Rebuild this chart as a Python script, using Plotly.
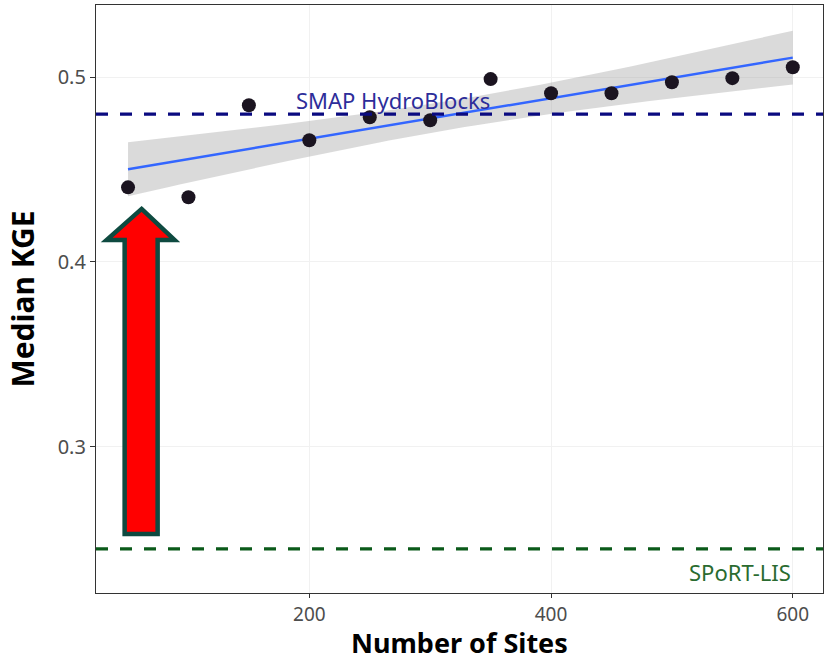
import numpy as np
import plotly.graph_objects as go

# ---- data ----
n_sites = [50, 100, 150, 200, 250, 300, 350, 400, 450, 500, 550, 600]
median_kge = [0.4404, 0.4350, 0.4848, 0.4659, 0.4783, 0.4767, 0.4990, 0.4913,
              0.4913, 0.4973, 0.4995, 0.5054]
smap_hydroblocks = 0.480
sport_lis = 0.2447
x_ticks = [200, 400, 600]
y_ticks = [0.3, 0.4, 0.5]

# ---- linear fit with 95% CI (as geom_smooth(method="lm")) ----
x = np.array(n_sites, float)
y = np.array(median_kge, float)
n = len(x)
b, a = np.polyfit(x, y, 1)
resid = y - (a + b * x)
s = np.sqrt(np.sum(resid ** 2) / (n - 2))
xg = np.linspace(x.min(), x.max(), 80)
yg = a + b * xg
t = 2.228  # t(0.975, df=10)
se = s * np.sqrt(1 / n + (xg - x.mean()) ** 2 / np.sum((x - x.mean()) ** 2))
upper, lower = yg + t * se, yg - t * se

fig = go.Figure()
fig.add_trace(go.Scatter(x=np.concatenate([xg, xg[::-1]]), y=np.concatenate([upper, lower[::-1]]),
                         fill="toself", fillcolor="rgba(153,153,153,0.36)", line=dict(width=0),
                         hoverinfo="skip", showlegend=False))
fig.add_trace(go.Scatter(x=xg, y=yg, mode="lines", line=dict(color="#3366FF", width=2.4),
                         showlegend=False))
fig.add_trace(go.Scatter(x=n_sites, y=median_kge, mode="markers",
                         marker=dict(color="#1b1420", size=14), showlegend=False))

fig.add_hline(y=smap_hydroblocks, line=dict(color="#0a0a80", width=3.2, dash="12px,12px"))
fig.add_hline(y=sport_lis, line=dict(color="#0b5a1a", width=3.2, dash="12px,12px"))

fig.add_annotation(x=269, y=0.4877, text="SMAP HydroBlocks", showarrow=False,
                   font=dict(family="Noto Sans", size=22, color="#2d2d9a"))
fig.add_annotation(x=600, y=0.2319, text="SPoRT-LIS", showarrow=False, xanchor="right",
                   font=dict(family="Noto Sans", size=22, color="#2a6b30"))

# x-axis title placed at the very bottom of the figure
fig.add_annotation(x=0.5, y=0, xref="paper", yref="paper", yanchor="bottom", yshift=-69,
                   text="<b>Number of Sites</b>", showarrow=False, borderpad=0,
                   font=dict(family="Noto Sans", size=27, color="black"))

# big red arrow
ax = [61.2, 88.5, 74.5, 74.5, 47.2, 47.2, 32.3]
ay = [0.4287, 0.4119, 0.4119, 0.2527, 0.2527, 0.4119, 0.4119]
path = "M " + " L ".join(f"{px},{py}" for px, py in zip(ax, ay)) + " Z"
fig.add_shape(type="path", path=path, xref="x", yref="y", fillcolor="#ff0000",
              line=dict(color="#0e4a40", width=4.5))

fig.update_layout(
    width=827, height=661,
    margin=dict(l=96, r=4, t=5, b=68),
    paper_bgcolor="white", plot_bgcolor="white",
    font=dict(family="Noto Sans"),
)
fig.update_xaxes(range=[23.5, 625], tickvals=x_ticks, ticks="outside", ticklen=4,
                 tickcolor="#333333", showline=True, linecolor="#333333", linewidth=1.2, mirror=True,
                 showgrid=True, gridcolor="#f1f1f1", gridwidth=1, zeroline=False, automargin=False,
                 tickfont=dict(size=19, color="#4d4d4d"))
fig.update_yaxes(range=[0.2208, 0.5391], tickvals=y_ticks, ticks="outside", ticklen=5,
                 tickcolor="#333333", showline=True, linecolor="#333333", linewidth=1.2, mirror=True,
                 showgrid=True, gridcolor="#f1f1f1", gridwidth=1, zeroline=False, automargin=False,
                 tickfont=dict(size=20, color="#4d4d4d"),
                 title=dict(text="<b>Median KGE</b>", font=dict(size=30, color="black"), standoff=14))

fig.write_html("out.html", config={"displayModeBar": False},
               post_script="document.body.style.margin='0';document.body.style.overflow='hidden';")
